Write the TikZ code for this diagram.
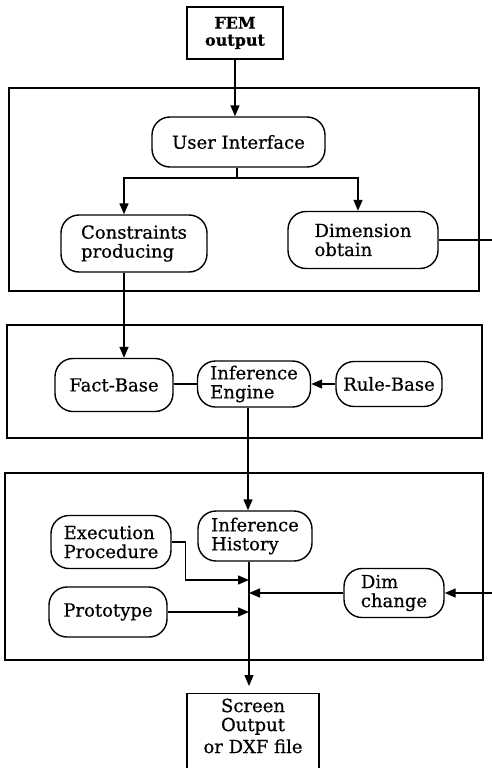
\documentclass[tikz,border=0pt]{standalone}
\usepackage{fontspec}
\setmainfont{DejaVu Serif}[FakeBold=0.6]
\usetikzlibrary{arrows.meta}
\begin{document}
\begin{tikzpicture}[x=1pt,y=-1pt,
  box/.style={draw,line width=1.4pt,rounded corners=18pt,inner sep=0pt,align=center,
    font=\fontsize{18}{19}\selectfont},
  sq/.style={draw,line width=1.4pt,inner sep=0pt,align=center},
  panel/.style={draw,line width=1.2pt,inner sep=0pt},
  conn/.style={line width=1.4pt},
  arr/.style={conn,-{Triangle[length=11pt,width=9pt]}}]
\useasboundingbox (0,0) rectangle (492,768);
\clip (0,0) rectangle (492,768);
% panels
\node[panel,minimum width=470,minimum height=203] (p1) at (244,189.5) {};
\node[panel,minimum width=475,minimum height=113] (p2) at (244.5,381.5) {};
\node[panel,minimum width=478,minimum height=187] (p3) at (244,566.5) {};
% terminal boxes
\node[sq,minimum width=96,minimum height=52,font=\bfseries\fontsize{16}{17}\selectfont] (fem) at (235,33) {FEM\\output};
\node[sq,anchor=north,minimum width=132,inner xsep=0pt,inner ysep=5pt,font=\fontsize{18}{19}\selectfont] (scr) at (253,693)
  {\begin{minipage}[t][80pt][t]{128pt}\centering Screen\\Output\\[3pt]or DXF file\end{minipage}};
% process nodes
\node[box,minimum width=173,minimum height=50] (ui) at (238.5,142) {User Interface};
\node[box,minimum width=146,minimum height=57,align=left] (cp) at (134,243.5) {Constraints\\producing};
\node[box,minimum width=150,minimum height=57,align=left] (dim) at (363,240) {Dimension\\obtain};
\node[box,minimum width=118,minimum height=53] (fact) at (114,385) {Fact-Base};
\node[box,minimum width=113,minimum height=46,align=left] (ie) at (254,384) {Inference\\Engine};
\node[box,minimum width=106,minimum height=45] (rule) at (389,384) {Rule-Base};
\node[box,minimum width=114,minimum height=50,align=left] (ih) at (255,536) {Inference\\History};
\node[box,minimum width=120,minimum height=53,align=left] (ep) at (111,542) {Execution\\Procedure};
\node[box,minimum width=118,minimum height=50] (proto) at (108,612) {Prototype};
\node[box,minimum width=100,minimum height=49,align=left] (dc) at (394,593) {Dim\\change};
% helper coordinates
\coordinate (br) at (237,178);
\coordinate (mx) at (249,0);
\coordinate (j1) at (249,580);
\coordinate (rt) at (496,0);
% connectors
\draw[arr] (fem.south) -- (fem.south |- ui.north);
\draw[conn] (ui.south -| br) -- (br);
\draw[arr] (br) -| ([xshift=-10pt]cp.north);
\draw[arr] (br) -| ([xshift=-5pt]dim.north);
\draw[arr] ([xshift=-10pt]cp.south) -- ([xshift=-10pt]cp.south |- fact.north);
\draw[conn] (ie.west -| fact.east) -- (ie.west);
\draw[arr] (rule.west) -- (rule.west -| ie.east);
\draw[arr] ([xshift=-6pt]ie.south) -- ([xshift=-6pt]ie.south |- ih.north);
\draw[arr,shorten >=7pt] (ih.south -| mx) -- (scr.north -| mx);
\draw[arr] (ep.east) -- ++(14,0) |- (j1);
\draw[arr] (proto.east) -- (proto.east -| mx);
\draw[arr] (dc.west) -- (dc.west -| mx);
\draw[arr] (dim.east) -- (dim.east -| rt) |- (dc.east);
\end{tikzpicture}
\end{document}
